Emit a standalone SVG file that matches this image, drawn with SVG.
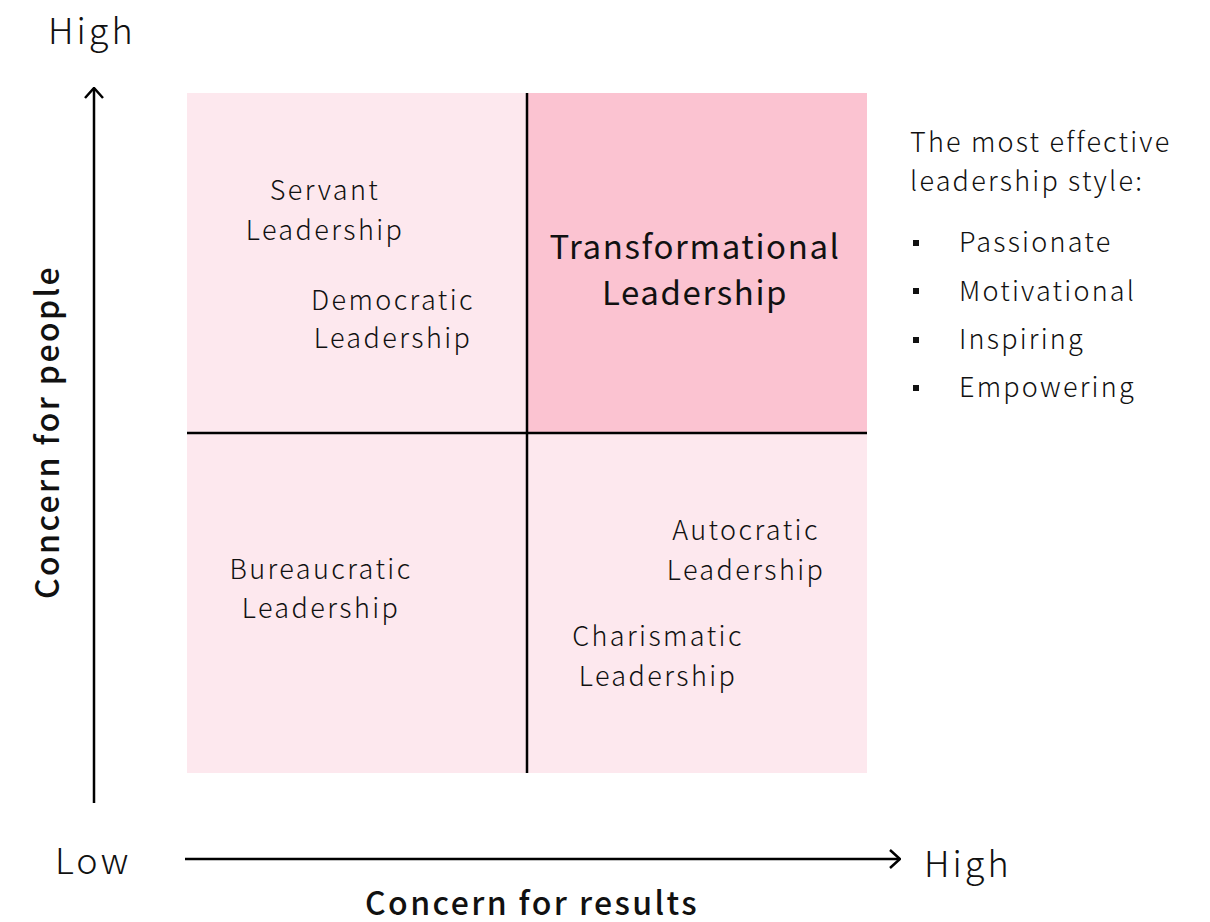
<svg xmlns="http://www.w3.org/2000/svg" width="1210" height="922" viewBox="0 0 1210 922">
  <defs>
    <marker id="arrow" viewBox="0 0 12 20" refX="11" refY="10" markerWidth="12" markerHeight="20" markerUnits="userSpaceOnUse" orient="auto">
      <path d="M1,1 L11,10 L1,19" fill="none" stroke="#000" stroke-width="2.5"/>
    </marker>
    <style>
      text { font-family: "Noto Sans CJK KR", "Noto Sans", sans-serif; fill: #111; }
      .axisend { font-size: 36px; font-weight: 300; letter-spacing: 3px; }
      .axistitle { font-size: 32px; font-weight: 500; text-anchor: middle; letter-spacing: 2.4px; }
      .quad { font-size: 27px; font-weight: 300; text-anchor: middle; letter-spacing: 2.4px; }
      .main { font-size: 33px; font-weight: 400; text-anchor: middle; letter-spacing: 1.6px; }
      .note { font-size: 27px; font-weight: 300; letter-spacing: 2.2px; }
      .light { fill: #FDE8EE; }
      .strong { fill: #FBC3D1; }
      .line { stroke: #000; stroke-width: 2.5; fill: none; }
    </style>
  </defs>
  <rect width="1210" height="922" fill="#fff"/>

  <!-- quadrant backgrounds -->
  <g id="quadrants">
    <rect class="light" x="187" y="93" width="340" height="340"/>
    <rect class="strong" x="527" y="93" width="340" height="340"/>
    <rect class="light" x="187" y="433" width="340" height="340"/>
    <rect class="light" x="527" y="433" width="340" height="340"/>
  </g>

  <!-- axes and dividers -->
  <g id="connectors">
    <line class="line" x1="527" y1="93" x2="527" y2="773"/>
    <line class="line" x1="187" y1="433" x2="867" y2="433"/>
    <line class="line" x1="94" y1="803" x2="94" y2="88" marker-end="url(#arrow)"/>
    <line class="line" x1="185" y1="859" x2="900" y2="859" marker-end="url(#arrow)"/>
  </g>

  <g id="axis-labels">
    <text class="axisend" x="48" y="44">High</text>
    <text class="axisend" x="55" y="874">Low</text>
    <text class="axisend" x="924" y="877">High</text>
    <text class="axistitle" x="532" y="915">Concern for results</text>
    <text class="axistitle" transform="translate(59,432) rotate(-90)">Concern for people</text>
  </g>

  <g id="servant">
    <text class="quad" x="325" y="200">Servant</text>
    <text class="quad" x="325" y="240">Leadership</text>
  </g>
  <g id="democratic">
    <text class="quad" x="393" y="310">Democratic</text>
    <text class="quad" x="393" y="348">Leadership</text>
  </g>
  <g id="transformational">
    <text class="main" x="695" y="259">Transformational</text>
    <text class="main" x="695" y="305">Leadership</text>
  </g>
  <g id="bureaucratic">
    <text class="quad" x="321" y="579">Bureaucratic</text>
    <text class="quad" x="321" y="618">Leadership</text>
  </g>
  <g id="autocratic">
    <text class="quad" x="746" y="540">Autocratic</text>
    <text class="quad" x="746" y="580">Leadership</text>
  </g>
  <g id="charismatic">
    <text class="quad" x="658" y="646">Charismatic</text>
    <text class="quad" x="658" y="686">Leadership</text>
  </g>

  <g id="traits">
    <text class="note" x="910" y="152">The most effective</text>
    <text class="note" x="910" y="191">leadership style:</text>
    <rect x="913" y="240" width="6" height="6" fill="#111"/>
    <rect x="913" y="288" width="6" height="6" fill="#111"/>
    <rect x="913" y="337" width="6" height="6" fill="#111"/>
    <rect x="913" y="385" width="6" height="6" fill="#111"/>
    <text class="note" x="959" y="252">Passionate</text>
    <text class="note" x="959" y="301">Motivational</text>
    <text class="note" x="959" y="349">Inspiring</text>
    <text class="note" x="959" y="397">Empowering</text>
  </g>
</svg>
